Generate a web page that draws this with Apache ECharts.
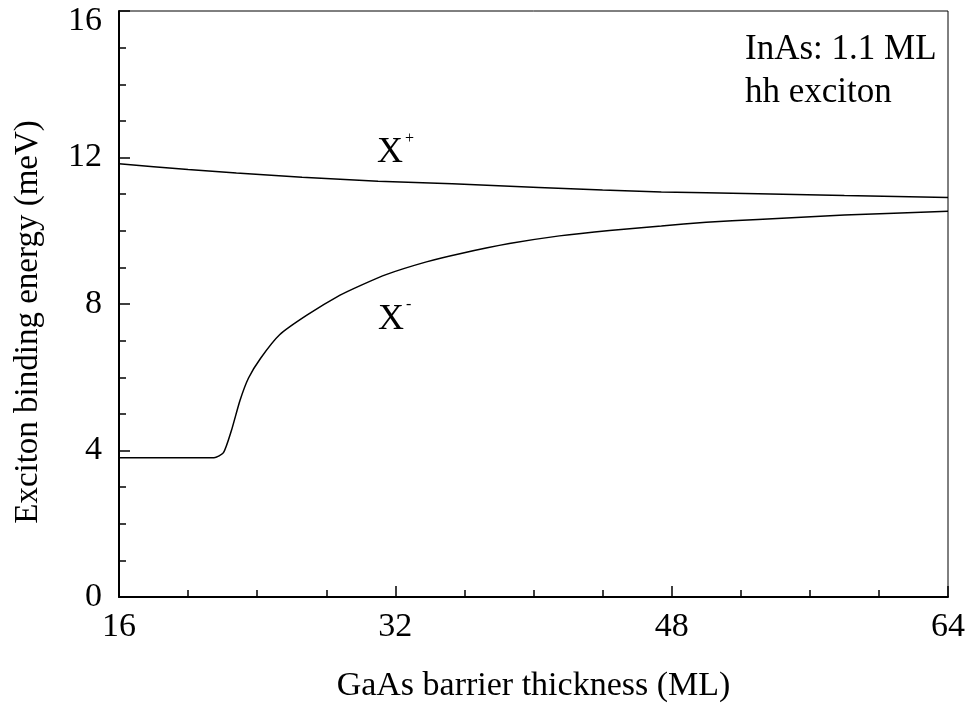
<!DOCTYPE html>
<html>
<head>
<meta charset="utf-8">
<script src="https://cdn.jsdelivr.net/npm/echarts@6/dist/echarts.min.js"></script>
<style>
  html, body { margin: 0; padding: 0; background: #fff; }
  #chart { width: 969px; height: 708px; }
</style>
</head>
<body>
<div id="chart"></div>
<script>
// GaAs barrier thickness (ML) and binding energies (meV)
const xPlusThickness = [16, 18, 20, 22.8, 26.6, 31, 35.3, 40.3, 44, 47.4, 50, 53, 58, 64];
const xPlusEnergy    = [11.83, 11.75, 11.67, 11.58, 11.46, 11.35, 11.28, 11.18, 11.11, 11.06, 11.04, 11.01, 10.96, 10.91];

const xMinusThickness = [16, 21.5, 22.05, 22.5, 23.0, 23.5, 24.2, 25.3, 26.9, 28.8, 30.0, 31.5, 33.8, 35.8, 38.6, 41.5, 44.4, 47.4, 50, 53, 58, 64];
const xMinusEnergy    = [3.80, 3.80, 3.94, 4.53, 5.36, 5.98, 6.52, 7.16, 7.70, 8.24, 8.51, 8.81, 9.15, 9.38, 9.65, 9.86, 10.01, 10.13, 10.23, 10.31, 10.43, 10.53];

const xTicks = [16, 32, 48, 64];
const yTicks = [0, 4, 8, 12, 16];

const xTitle = 'GaAs barrier thickness (ML)';
const yTitle = 'Exciton binding energy (meV)';
const noteLines = ['InAs: 1.1 ML', 'hh exciton'];

const FONT = '"Liberation Serif", "Times New Roman", serif';

const pairs = (xs, ys) => xs.map((x, i) => [x, ys[i]]);

const chart = echarts.init(document.getElementById('chart'), null, { renderer: 'canvas' });

const axisCommon = {
  axisLine: { show: true, onZero: false, lineStyle: { color: '#000', width: 2 } },
  axisTick: { show: true, inside: true, length: 11, lineStyle: { color: '#000', width: 1.5 } },
  minorTick: { show: true, splitNumber: 4, length: 7, lineStyle: { color: '#000', width: 1.5 } },
  splitLine: { show: false },
  minorSplitLine: { show: false }
};

chart.setOption({
  animation: false,
  backgroundColor: '#fff',
  grid: {
    left: 119, right: 21, top: 11, bottom: 108,
    show: true, borderColor: '#000', borderWidth: 1, backgroundColor: 'transparent'
  },
  xAxis: Object.assign({
    type: 'value',
    min: xTicks[0], max: xTicks[xTicks.length - 1], interval: 16,
    name: xTitle,
    nameLocation: 'middle',
    nameGap: 72,
    nameTextStyle: { fontFamily: FONT, fontSize: 34, color: '#000' },
    axisLabel: {
      show: true, margin: 13,
      fontFamily: FONT, fontSize: 34, color: '#000',
      showMinLabel: true, showMaxLabel: true
    }
  }, axisCommon),
  yAxis: Object.assign({
    type: 'value',
    min: yTicks[0], max: yTicks[yTicks.length - 1], interval: 4,
    axisLabel: {
      show: true, margin: 17,
      fontFamily: FONT, fontSize: 34, color: '#000',
      showMinLabel: true, showMaxLabel: true,
      formatter: v => (v === yTicks[yTicks.length - 1] ? '{top|' + v + '}' : '{n|' + v + '}'),
      rich: {
        n: { fontFamily: FONT, fontSize: 34, color: '#000' },
        top: { fontFamily: FONT, fontSize: 34, color: '#000', padding: [20, 0, 0, 0] }
      }
    }
  }, axisCommon),
  series: [
    {
      name: 'X+',
      type: 'line',
      data: pairs(xPlusThickness, xPlusEnergy),
      showSymbol: false,
      smooth: false,
      lineStyle: { color: '#000', width: 1.5 }
    },
    {
      name: 'X-',
      type: 'line',
      data: pairs(xMinusThickness, xMinusEnergy),
      showSymbol: false,
      smooth: 0.2,
      lineStyle: { color: '#000', width: 1.5 }
    }
  ],
  graphic: [
    {
      type: 'text', x: 28, y: 322, rotation: Math.PI / 2,
      style: { text: yTitle, font: '33px ' + FONT, fill: '#000', align: 'center', verticalAlign: 'middle' }
    },
    {
      type: 'text', x: 745, y: 50,
      style: { text: noteLines[0], font: '35px ' + FONT, fill: '#000', align: 'left', verticalAlign: 'middle' }
    },
    {
      type: 'text', x: 745, y: 93,
      style: { text: noteLines[1], font: '35px ' + FONT, fill: '#000', align: 'left', verticalAlign: 'middle' }
    },
    {
      type: 'text', x: 377, y: 153,
      style: { text: 'X', font: '36px ' + FONT, fill: '#000', align: 'left', verticalAlign: 'middle' }
    },
    {
      type: 'text', x: 405, y: 139,
      style: { text: '+', font: '16px ' + FONT, fill: '#000', align: 'left', verticalAlign: 'middle' }
    },
    {
      type: 'text', x: 378, y: 320,
      style: { text: 'X', font: '36px ' + FONT, fill: '#000', align: 'left', verticalAlign: 'middle' }
    },
    {
      type: 'text', x: 406, y: 305,
      style: { text: '-', font: '16px ' + FONT, fill: '#000', align: 'left', verticalAlign: 'middle' }
    }
  ]
});
</script>
</body>
</html>
